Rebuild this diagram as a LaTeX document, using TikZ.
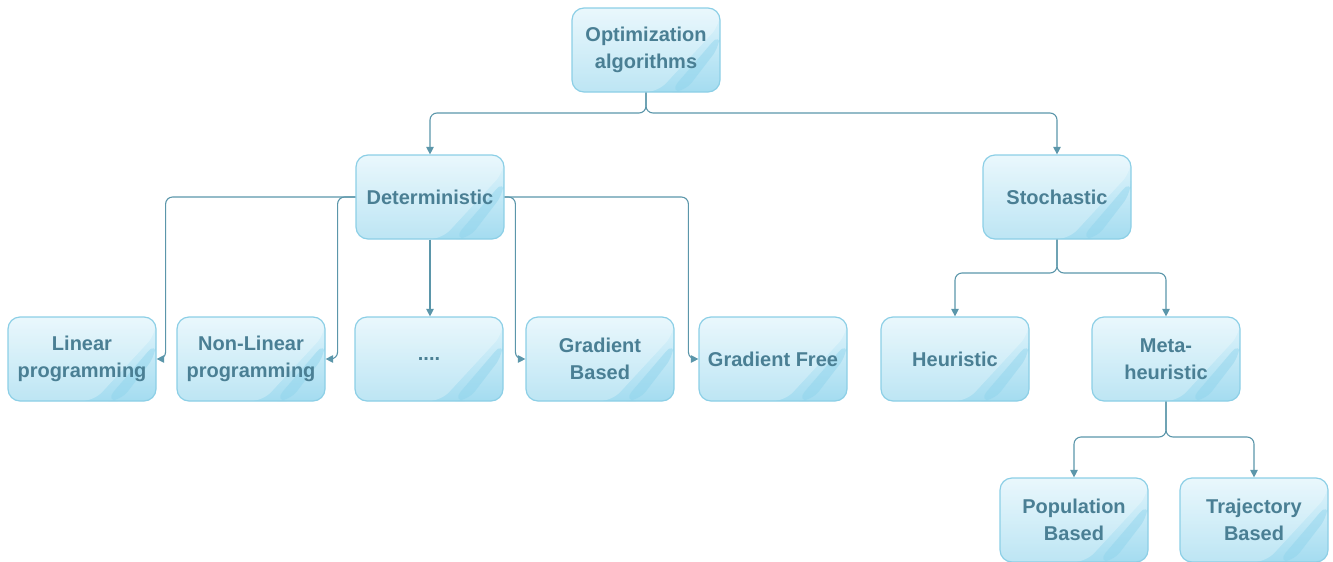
\documentclass[tikz,border=0pt]{standalone}
\usepackage{fontspec}
\setmainfont{Liberation Sans}
\usetikzlibrary{arrows.meta,calc}
\definecolor{boxtop}{HTML}{E2F5FC}
\definecolor{boxbot}{HTML}{A4DCF0}
\definecolor{boxline}{HTML}{8CCFE6}
\definecolor{txt}{HTML}{4A7F94}
\definecolor{conn}{HTML}{5B96AA}
\definecolor{stripe}{HTML}{8DD3EC}
\tikzset{
  box/.style={draw=boxline, line width=1.2pt, rounded corners=12pt,
    top color=boxtop, bottom color=boxbot,
    minimum width=148pt, minimum height=84pt, inner sep=2pt,
    align=center, text=txt, font=\bfseries\fontsize{20}{27}\selectfont,
    path picture={
      \fill[white,opacity=0.28]
        (path picture bounding box.north west) --
        (path picture bounding box.north east) --
        ($(path picture bounding box.north east)!0.2!(path picture bounding box.south east)$) --
        ($(path picture bounding box.south west)!0.58!(path picture bounding box.south east)$) --
        (path picture bounding box.south west) -- cycle;
      \fill[stripe,opacity=0.45]
        ($(path picture bounding box.south west)!0.66!(path picture bounding box.south east)$) --
        ($(path picture bounding box.north east)!0.3!(path picture bounding box.south east)$) --
        ($(path picture bounding box.north east)!0.45!(path picture bounding box.south east)$) --
        ($(path picture bounding box.south west)!0.76!(path picture bounding box.south east)$) -- cycle;
    }},
  link/.style={draw=conn, line width=1.1pt, rounded corners=7pt,
    -{Triangle[length=7.5pt,width=7.5pt]}}
}
\begin{document}
\begin{tikzpicture}[x=1pt,y=-1pt]
\useasboundingbox (0,0) rectangle (1333,562);
\node[box] (opt) at (646,50) {Optimization\\algorithms};
\node[box] (det) at (430,197) {Deterministic};
\node[box] (sto) at (1057,197) {Stochastic};
\node[box] (lin) at (82,359) {Linear\\programming};
\node[box] (non) at (251,359) {Non-Linear\\programming};
\node[box] (dots) at (429,359) {....};
\node[box] (gb) at (600,359) {Gradient\\Based};
\node[box] (gf) at (773,359) {Gradient Free};
\node[box] (heu) at (955,359) {Heuristic};
\node[box] (meta) at (1166,359) {Meta-\\heuristic};
\node[box] (pop) at (1074,520) {Population\\Based};
\node[box] (traj) at (1254,520) {Trajectory\\Based};

\coordinate (f1) at (646,113);
\coordinate (f2) at (1057,273);
\coordinate (f3) at (1166,437);

\draw[link] (opt.south) -- (f1) -| (det.north);
\draw[link] (opt.south) -- (f1) -| (sto.north);

\draw[link] (det.west) -| ($(lin.east)+(9,0)$) -- (lin.east);
\draw[link] (det.west) -| ($(non.east)+(12,0)$) -- (non.east);
\draw[link] (det.south) -- (det.south |- dots.north);
\draw[link] (det.east) -| ($(gb.west)+(-10,0)$) -- (gb.west);
\draw[link] (det.east) -| ($(gf.west)+(-10,0)$) -- (gf.west);

\draw[link] (sto.south) -- (f2) -| (heu.north);
\draw[link] (sto.south) -- (f2) -| (meta.north);

\draw[link] (meta.south) -- (f3) -| (pop.north);
\draw[link] (meta.south) -- (f3) -| (traj.north);
\end{tikzpicture}
\end{document}
